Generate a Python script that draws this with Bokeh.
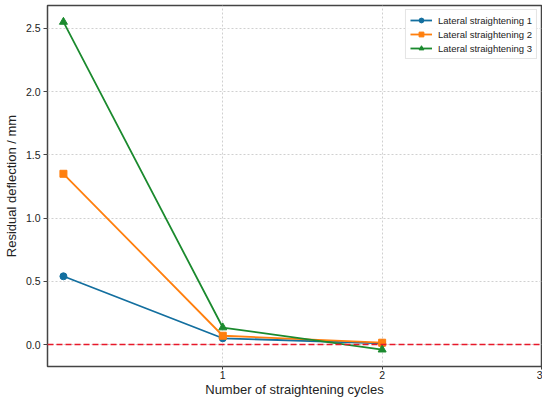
from bokeh.plotting import figure
from bokeh.models import Span, FixedTicker, Range1d, PrintfTickFormatter
from bokeh.embed import file_html
from bokeh.resources import INLINE

cycles = [0, 1, 2]
series_names = ["Lateral straightening 1", "Lateral straightening 2", "Lateral straightening 3"]
s1 = [0.54, 0.05, 0.01]
s2 = [1.35, 0.07, 0.015]
s3 = [2.55, 0.135, -0.04]
x_ticks = [1, 2, 3]
y_ticks = [0.0, 0.5, 1.0, 1.5, 2.0, 2.5]
x_title = "Number of straightening cycles"
y_title = "Residual deflection / mm"

colors = ["#136f9f", "#ff7f0e", "#1b8a2e"]
markers = ["circle", "square", "triangle"]

FONT = "Liberation Sans"

p = figure(width=542, height=399, output_backend="svg", toolbar_location=None,
           x_range=Range1d(-0.1, 3.0), y_range=Range1d(-0.173, 2.68),
           min_border_left=0, min_border_right=1, min_border_top=5, min_border_bottom=0)

p.xaxis.ticker = FixedTicker(ticks=x_ticks)
p.yaxis.ticker = FixedTicker(ticks=y_ticks)
p.yaxis.formatter = PrintfTickFormatter(format="%.1f")

for ax in (p.xaxis, p.yaxis):
    ax.major_label_text_font = FONT
    ax.major_label_text_font_size = "10.5px"
    ax.major_label_text_color = "#222222"
    ax.axis_label_text_font = FONT
    ax.axis_label_text_font_size = "13px"
    ax.axis_label_text_font_style = "normal"
    ax.axis_label_text_color = "#222222"
    ax.minor_tick_line_color = None
    ax.major_tick_out = 4
    ax.major_tick_in = 0
    ax.axis_line_color = None
    ax.major_tick_line_color = "#444444"

p.xaxis.axis_label = x_title
p.yaxis.axis_label = y_title
p.xaxis.major_tick_out = 3
p.xaxis.major_label_standoff = 1
p.xaxis.axis_label_standoff = 0
p.yaxis.major_label_standoff = 3
p.yaxis.axis_label_standoff = 4

p.xgrid.ticker = FixedTicker(ticks=x_ticks)
p.ygrid.ticker = FixedTicker(ticks=y_ticks)
for g in (p.xgrid, p.ygrid):
    g.grid_line_color = "#d0d0d0"
    g.grid_line_dash = "2 2"
    g.grid_line_width = 1

p.outline_line_color = "#444444"
p.outline_line_width = 1.5

p.add_layout(Span(location=0, dimension="width", line_color="#e8182a",
                  line_dash="6 3", line_width=1.5))

for name, ys, c, m in zip(series_names, [s1, s2, s3], colors, markers):
    p.line(cycles, ys, line_color=c, line_width=1.8, legend_label=name)
    p.scatter(cycles, ys, marker=m, size=7 if m != "triangle" else 8,
              fill_color=c, line_color=c, legend_label=name)

lg = p.legend[0]
lg.location = "top_right"
lg.label_text_font = FONT
lg.label_text_font_size = "9.5px"
lg.label_text_color = "#222222"
lg.border_line_color = "#cccccc"
lg.border_line_width = 1
lg.background_fill_alpha = 0.9
lg.glyph_width = 22
lg.glyph_height = 12
lg.label_height = 12
lg.spacing = 2
lg.padding = 4
lg.margin = 4
lg.label_standoff = 6

open("out.html", "w").write(file_html(p, INLINE))
